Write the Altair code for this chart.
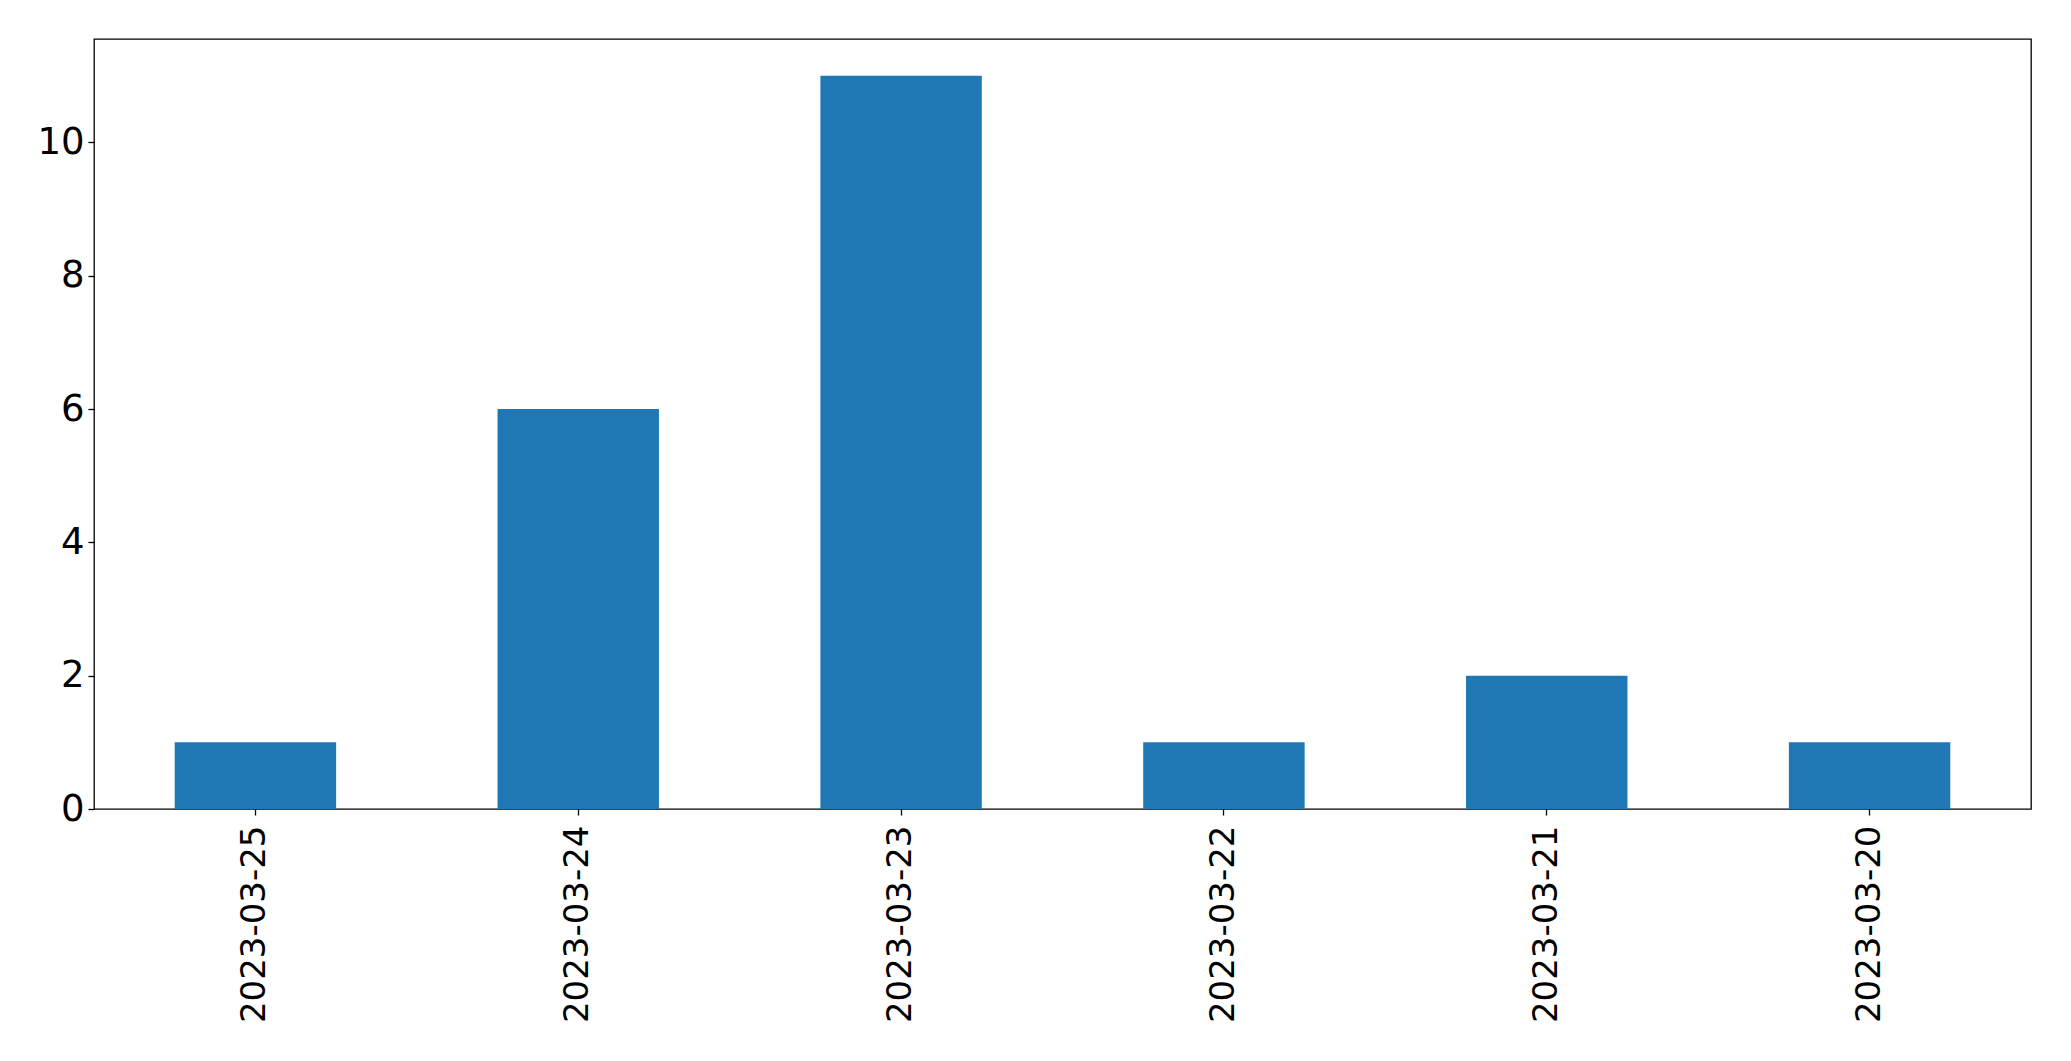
import altair as alt
import pandas as pd

dates = ["2023-03-25", "2023-03-24", "2023-03-23", "2023-03-22", "2023-03-21", "2023-03-20"]
counts = [1, 6, 11, 1, 2, 1]

df = pd.DataFrame({"date": dates, "count": counts})

chart = alt.Chart(df).mark_bar(color="#1f77b4").encode(
    x=alt.X("date:N", sort=dates, title=None,
            scale=alt.Scale(paddingInner=0.5, paddingOuter=0.25),
            axis=alt.Axis(labelAngle=270, labelAlign="right", labelBaseline="middle",
                          labelFontSize=34, labelFont="DejaVu Sans", labelColor="black",
                          labelLimit=500,
                          tickSize=6, tickColor="black", tickWidth=1.3,
                          labelPadding=10, domain=False, grid=False)),
    y=alt.Y("count:Q", title=None,
            scale=alt.Scale(domain=[0, 11.55], nice=False, zero=True),
            axis=alt.Axis(values=[0, 2, 4, 6, 8, 10], labelFontSize=37, labelFont="DejaVu Sans",
                          labelColor="black", tickSize=6, tickColor="black", tickWidth=1.3,
                          labelPadding=4, domain=False, grid=False)),
).properties(
    width=1937, height=770,
    autosize=alt.AutoSizeParams(type="none"),
    padding={"left": 86, "top": 31, "right": 30, "bottom": 230},
).configure_view(stroke="black", strokeWidth=1.3)

chart.save("out.html", embed_options={"renderer": "svg", "actions": False})
